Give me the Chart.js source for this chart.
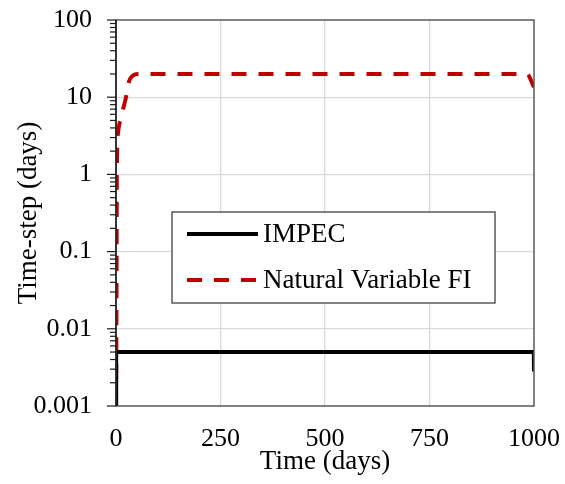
<!DOCTYPE html>
<html>
<head>
<meta charset="utf-8">
<script src="https://cdn.jsdelivr.net/npm/chart.js@4/dist/chart.umd.min.js"></script>
<style>
  html, body { margin: 0; padding: 0; background: #fff; }
  #wrap { width: 565px; height: 484px; }
</style>
</head>
<body>
<div id="wrap"><canvas id="c" width="565" height="484"></canvas></div>
<script>
// ---- data ----
const impecTime = [0, 0.4, 999.5, 1000];
const impecDt   = [0.001, 0.005, 0.005, 0.0028];

const fiTime = [0, 1, 1.5, 2, 5, 12, 17, 24, 31, 40, 53, 983, 1000];
const fiDt   = [0.001, 0.01, 0.1, 1, 3.5, 5.5, 7, 10, 16, 19, 20, 20, 13.5];

const seriesNames = ['IMPEC', 'Natural Variable FI'];
const xTicks = [0, 250, 500, 750, 1000];
const yTicks = [0.001, 0.01, 0.1, 1, 10, 100];
const yTickLabels = ['0.001', '0.01', '0.1', '1', '10', '100'];
const xTitle = 'Time (days)';
const yTitle = 'Time-step (days)';

const FONT = '"Liberation Serif", "Times New Roman", serif';
const AXIS = '#595959';
const GRID = '#d9d9d9';

const toXY = (xs, ys) => xs.map((x, i) => ({ x, y: ys[i] }));

const frame = {
  id: 'frame',
  afterDraw(chart) {
    const { ctx, chartArea: a } = chart;
    const ys = chart.scales.y;
    ctx.save();
    ctx.strokeStyle = AXIS;
    ctx.lineWidth = 1.5;
    ctx.strokeRect(a.left, a.top, a.right - a.left, a.bottom - a.top);
    ctx.strokeStyle = '#1a1a1a';
    ctx.beginPath();
    ctx.moveTo(a.left, a.top);
    ctx.lineTo(a.left, a.bottom);
    ctx.stroke();
    ctx.lineWidth = 1.2;
    for (let d = 0; d < yTicks.length; d++) {
      const base = yTicks[d];
      let py = ys.getPixelForValue(base);
      ctx.beginPath();
      ctx.moveTo(a.left - 9, py); ctx.lineTo(a.left, py); ctx.stroke();
      if (d < yTicks.length - 1) {
        for (let m = 2; m <= 9; m++) {
          py = ys.getPixelForValue(base * m);
          ctx.beginPath();
          ctx.moveTo(a.left - 6, py); ctx.lineTo(a.left, py); ctx.stroke();
        }
      }
    }
    // legend box
    const lx = 172, ly = 212, lw = 323, lh = 91;
    ctx.fillStyle = '#fff';
    ctx.fillRect(lx, ly, lw, lh);
    ctx.strokeStyle = '#404040';
    ctx.lineWidth = 1.3;
    ctx.strokeRect(lx, ly, lw, lh);
    const rowsY = [ly + 22, ly + 68];
    chart.data.datasets.forEach((ds, i) => {
      const y = rowsY[i];
      ctx.strokeStyle = ds.borderColor;
      ctx.lineWidth = ds.borderWidth;
      ctx.setLineDash(ds.borderDash || []);
      ctx.beginPath();
      ctx.moveTo(lx + 15, y); ctx.lineTo(lx + 86, y); ctx.stroke();
      ctx.setLineDash([]);
      ctx.fillStyle = '#000';
      ctx.font = '27px ' + FONT;
      ctx.textBaseline = 'middle';
      ctx.textAlign = 'left';
      ctx.fillText(ds.label, lx + 91, y + 1);
    });
    ctx.restore();
  }
};

new Chart(document.getElementById('c'), {
  type: 'line',
  data: {
    datasets: [
      {
        label: seriesNames[0],
        data: toXY(impecTime, impecDt),
        borderColor: '#000000',
        borderWidth: 4,
        pointRadius: 0,
        fill: false,
        tension: 0
      },
      {
        label: seriesNames[1],
        data: toXY(fiTime, fiDt),
        borderColor: '#c00000',
        borderWidth: 4,
        borderDash: [15, 12],
        pointRadius: 0,
        fill: false,
        tension: 0.2,
        cubicInterpolationMode: 'monotone'
      }
    ]
  },
  options: {
    responsive: false,
    animation: false,
    devicePixelRatio: 1,
    layout: { padding: { top: 20, right: 31, left: 0, bottom: 0 } },
    plugins: { legend: { display: false }, tooltip: { enabled: false } },
    scales: {
      x: {
        type: 'linear',
        min: 0, max: 1000,
        afterBuildTicks: s => { s.ticks = xTicks.map(v => ({ value: v })); },
        afterFit: s => { s.height = 78; s.paddingLeft = 0; s.paddingRight = 0; },
        grid: {
          color: c => (c.tick && (c.tick.value === 0 || c.tick.value === 1000)) ? 'rgba(0,0,0,0)' : GRID,
          lineWidth: 1.3,
          drawTicks: false
        },
        border: { display: false },
        ticks: {
          color: '#000',
          font: { family: FONT, size: 26 },
          padding: 18,
          maxRotation: 0,
          callback: v => String(v)
        },
        title: {
          display: true,
          text: xTitle,
          color: '#000',
          font: { family: FONT, size: 27 },
          padding: { top: 0, bottom: 6 }
        }
      },
      y: {
        type: 'logarithmic',
        min: 0.001, max: 100,
        afterBuildTicks: s => { s.ticks = yTicks.map(v => ({ value: v })); },
        afterFit: s => { s.width = 116; s.paddingTop = 0; s.paddingBottom = 0; },
        grid: {
          color: c => (c.tick && (c.tick.value === 0.001 || c.tick.value === 100)) ? 'rgba(0,0,0,0)' : GRID,
          lineWidth: 1.3,
          drawTicks: false
        },
        border: { display: false },
        ticks: {
          color: '#000',
          font: { family: FONT, size: 26 },
          padding: 24,
          callback: (v) => {
            const i = yTicks.findIndex(t => Math.abs(t - v) / t < 1e-6);
            return i >= 0 ? yTickLabels[i] : '';
          }
        },
        title: {
          display: true,
          text: yTitle,
          color: '#000',
          font: { family: FONT, size: 27 },
          padding: { top: 13, bottom: 0 }
        }
      }
    }
  },
  plugins: [frame]
});
</script>
</body>
</html>
